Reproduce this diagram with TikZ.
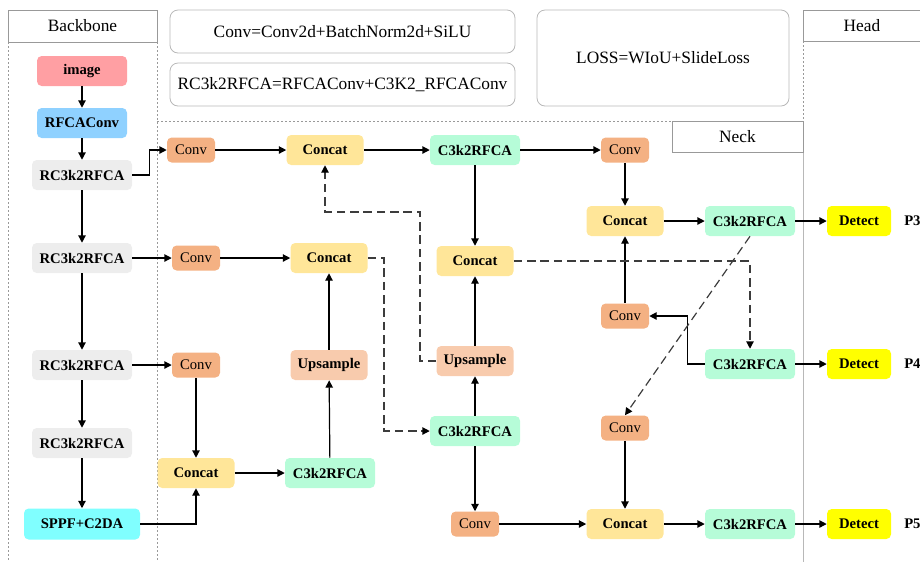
\documentclass[tikz,border=0pt]{standalone}
\usepackage{fontspec}
\setmainfont{Liberation Serif}
\usetikzlibrary{arrows.meta}
\definecolor{cimg}{HTML}{FF9FA3}
\definecolor{crfca}{HTML}{8FD1FF}
\definecolor{crc}{HTML}{EDEDED}
\definecolor{csppf}{HTML}{80FFFF}
\definecolor{cconv}{HTML}{F4B183}
\definecolor{ccat}{HTML}{FFE699}
\definecolor{cc3}{HTML}{B6FCD8}
\definecolor{cup}{HTML}{F8CBAD}
\definecolor{cdet}{HTML}{FFFF00}
\definecolor{cdash}{HTML}{3C3C3C}
\definecolor{cpanel}{HTML}{999999}
\begin{document}
\begin{tikzpicture}[x=0.75pt,y=-0.75pt,
  wh/.style 2 args={minimum width=#1*0.75pt, minimum height=#2*0.75pt},
  blk/.style={rounded corners=3.5pt, inner sep=0pt, draw=none, font=\bfseries\fontsize{11}{13}\selectfont},
  reg/.style={rounded corners=3.5pt, inner sep=0pt, draw=none, font=\fontsize{11}{13}\selectfont},
  convbox/.style={reg, fill=cconv, wh={48}{25}},
  catbox/.style={blk, fill=ccat, wh={77}{30}},
  cbox/.style={blk, fill=cc3, wh={90}{30}},
  upbox/.style={blk, fill=cup, wh={77}{30}},
  rcbox/.style={blk, fill=crc, wh={100}{30}},
  detbox/.style={blk, fill=cdet, wh={64}{30}},
  hdr/.style={draw=cpanel, line width=0.5pt, inner sep=0pt, font=\fontsize{13}{15}\selectfont},
  formula/.style={draw=cpanel!70, line width=0.6pt, rounded corners=6pt, inner sep=0pt, font=\fontsize{13}{15}\selectfont},
  plabel/.style={font=\bfseries\fontsize{11}{13}\selectfont, inner sep=0pt},
  arr/.style={draw=black, line width=0.9pt, -{Triangle[length=5.5pt,width=5.5pt]}},
  dsh/.style={draw=cdash, line width=0.9pt, dash pattern=on 6.5pt off 3.5pt, -{Triangle[length=5.5pt,width=5.5pt,color=black]}},
  pdash/.style={draw=cpanel, line width=0.5pt, dash pattern=on 1.5pt off 1.5pt}
]
\useasboundingbox (0,0) rectangle (920,562);

% panels
\draw[pdash] (8,42) -- (8,562);
\draw[pdash] (157,42) -- (157,562);
\draw[pdash] (157,121) -- (672,121);
\draw[pdash] (803,41) -- (803,121);
\draw[draw=cpanel!70, line width=0.6pt] (803,152) -- (803,562);
\node[hdr, wh={149}{32}] (hbb) at (82.5,26) {Backbone};
\node[hdr, wh={118}{31}] (hhd) at (862,25.5) {Head};
\node[hdr, wh={131}{31}] (hnk) at (737.5,136.5) {Neck};

% formula boxes
\node[formula, wh={345}{43}] (f1) at (342.5,31.5) {Conv=Conv2d+BatchNorm2d+SiLU};
\node[formula, wh={345}{43}] (f2) at (342.5,84.5) {RC3k2RFCA=RFCAConv+C3K2\_RFCAConv};
\node[formula, wh={252}{96}] (f3) at (663,58) {LOSS=WIoU+SlideLoss};

% backbone
\node[blk, fill=cimg, wh={90}{30}] (img) at (82,71) {image};
\node[blk, fill=crfca, wh={90}{30}] (rfca) at (82,123) {RFCAConv};
\node[rcbox] (rc1) at (82,175) {RC3k2RFCA};
\node[rcbox] (rc2) at (82,258) {RC3k2RFCA};
\node[rcbox] (rc3) at (82,365) {RC3k2RFCA};
\node[rcbox] (rc4) at (82,443) {RC3k2RFCA};
\node[blk, fill=csppf, wh={116}{31}] (sppf) at (82,524) {SPPF+C2DA};

% neck
\node[convbox] (cv1) at (191,150) {Conv};
\node[catbox] (cat1) at (325,150) {Concat};
\node[cbox] (c3a) at (475,150) {C3k2RFCA};
\node[convbox] (cv2) at (625,150) {Conv};
\node[catbox] (cat2) at (625,221) {Concat};
\node[cbox] (c3p3) at (750,221) {C3k2RFCA};

\node[convbox] (cv3) at (196,258) {Conv};
\node[catbox] (cat3) at (329,258) {Concat};
\node[catbox] (cat4) at (475,261) {Concat};
\node[convbox] (cv4) at (625,316) {Conv};
\node[cbox] (c3p4) at (750,364) {C3k2RFCA};

\node[convbox] (cv5) at (196,365) {Conv};
\node[upbox] (up1) at (329,365) {Upsample};
\node[upbox] (up2) at (475,361) {Upsample};

\node[cbox] (c3c) at (475,431) {C3k2RFCA};
\node[convbox] (cv7) at (625,428) {Conv};

\node[catbox] (cat5) at (196,473) {Concat};
\node[cbox] (c3b) at (330,473) {C3k2RFCA};

\node[convbox] (cv6) at (475,524) {Conv};
\node[catbox] (cat6) at (625,524) {Concat};
\node[cbox] (c3p5) at (750,524) {C3k2RFCA};

% head
\node[detbox] (d3) at (859,221) {Detect};
\node[detbox] (d4) at (859,364) {Detect};
\node[detbox] (d5) at (859,524) {Detect};
\node[plabel, anchor=west] (p3) at (904,221) {P3};
\node[plabel, anchor=west] (p4) at (904,364) {P4};
\node[plabel, anchor=west] (p5) at (904,524) {P5};

% backbone arrows
\draw[arr] (img) -- (rfca);
\draw[arr] (rfca) -- (rc1);
\draw[arr] (rc1) -- (rc2);
\draw[arr] (rc2) -- (rc3);
\draw[arr] (rc3) -- (rc4);
\draw[arr] (rc4) -- (sppf);

% lateral
\draw[arr] (rc1.east) -- ++(17,0) |- (cv1.west);
\draw[arr] (rc2) -- (cv3);
\draw[arr] (rc3) -- (cv5);
\draw[arr] (sppf.east) -| (cat5.south);

% neck solid
\draw[arr] (cv1) -- (cat1);
\draw[arr] (cat1) -- (c3a);
\draw[arr] (c3a) -- (cv2);
\draw[arr] (cv2) -- (cat2);
\draw[arr] (c3a) -- (cat4);
\draw[arr] (cat2) -- (c3p3);
\draw[arr] (c3p3) -- (d3);
\draw[arr] (cv3) -- (cat3);
\draw[arr] (cv5) -- (cat5);
\draw[arr] (cat5) -- (c3b);
\draw[arr] (c3b) -- (up1);
\draw[arr] (up1) -- (cat3);
\draw[arr] (c3c) -- (up2);
\draw[arr] (up2) -- (cat4);
\draw[arr] (c3c) -- (cv6);
\draw[arr] (cv6) -- (cat6);
\draw[arr] (cat6) -- (c3p5);
\draw[arr] (c3p5) -- (d5);
\draw[arr] (cv4) -- (cat2);
\draw[arr] (c3p4.west) -- ++(-17,0) |- (cv4.east);
\draw[arr] (c3p4) -- (d4);
\draw[arr] (cv7) -- (cat6);

% dashed
\draw[dsh] (cat3.east) -- (384,258) -- (384,431) -- (c3c.west);
\draw[dsh] (up2.west) -- (420,361) -- (420,212) -- (325,212) -- (cat1.south);
\draw[dsh] (cat4.east) -| (c3p4.north);
\draw[dsh] (c3p3.south) -- (cv7.north);
\end{tikzpicture}
\end{document}
